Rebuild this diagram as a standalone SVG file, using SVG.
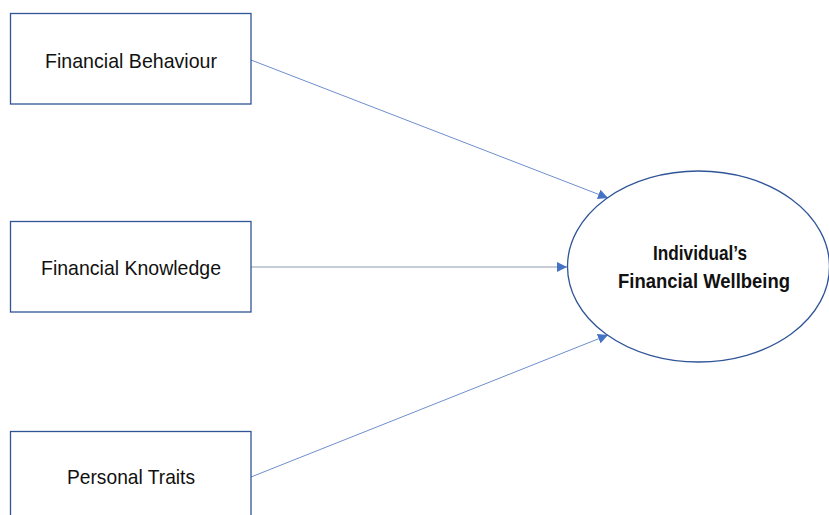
<svg xmlns="http://www.w3.org/2000/svg" width="829" height="515" viewBox="0 0 829 515">
<style>
.box{fill:#fff;stroke:#2f5597;stroke-width:1.3}
.lbl{font-family:"Liberation Sans",Arial,sans-serif;font-size:21px;fill:#111;text-anchor:middle}
.bold{font-weight:bold;font-size:21px}
.conn{stroke:#6f8fcf;stroke-width:1;fill:none}
</style>
<defs>
<marker id="arr" viewBox="0 0 10 10" refX="10" refY="5" markerWidth="10" markerHeight="10" markerUnits="userSpaceOnUse" orient="auto">
<path d="M0,0 L10,5 L0,10 z" fill="#4472c4"/>
</marker>
</defs>
<rect width="829" height="515" fill="#fff"/>
<g id="connectors">
<line class="conn" x1="251" y1="60" x2="608" y2="198" marker-end="url(#arr)"/>
<line class="conn" x1="251" y1="267" x2="567" y2="267" style="stroke:#8e9bb0" marker-end="url(#arr)"/>
<line class="conn" x1="251" y1="477" x2="608" y2="335" marker-end="url(#arr)"/>
</g>
<g id="n1">
<rect class="box" x="10.5" y="13.5" width="240.5" height="90.5"/>
<text class="lbl" x="131" y="68" textLength="172" lengthAdjust="spacingAndGlyphs">Financial Behaviour</text>
</g>
<g id="n2">
<rect class="box" x="10.5" y="221.5" width="240.5" height="90.5"/>
<text class="lbl" x="131" y="275" textLength="180" lengthAdjust="spacingAndGlyphs">Financial Knowledge</text>
</g>
<g id="n3">
<rect class="box" x="10.5" y="431.5" width="240.5" height="100"/>
<text class="lbl" x="131" y="484" textLength="128" lengthAdjust="spacingAndGlyphs">Personal Traits</text>
</g>
<g id="n4">
<ellipse class="box" cx="698.5" cy="266.5" rx="131" ry="95.5"/>
<text class="lbl bold" x="700" y="260" textLength="94" lengthAdjust="spacingAndGlyphs">Individual’s</text>
<text class="lbl bold" x="704" y="288" textLength="172" lengthAdjust="spacingAndGlyphs">Financial Wellbeing</text>
</g>
</svg>
